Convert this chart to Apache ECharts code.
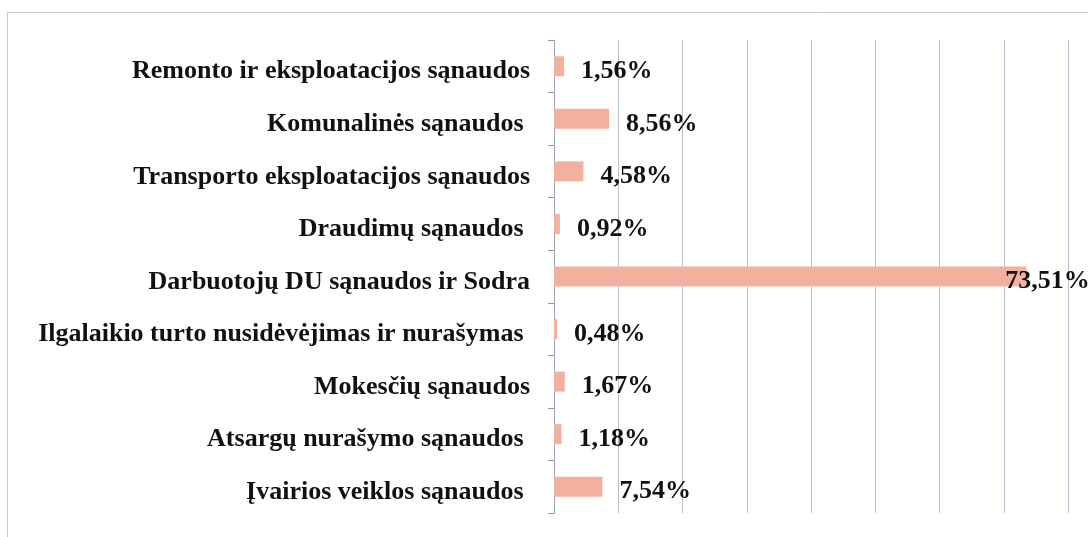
<!DOCTYPE html>
<html>
<head>
<meta charset="utf-8">
<script src="https://cdn.jsdelivr.net/npm/echarts@6/dist/echarts.min.js"></script>
<style>
  html, body { margin: 0; padding: 0; background: #fff; }
  #chart { width: 1088px; height: 537px; }
</style>
</head>
<body>
<div id="chart"></div>
<script>
// categories top to bottom (trailing spaces kept as in the source)
const categories = [
  'Remonto ir eksploatacijos sąnaudos',
  'Komunalinės sąnaudos ',
  'Transporto eksploatacijos sąnaudos',
  'Draudimų sąnaudos ',
  'Darbuotojų DU sąnaudos ir Sodra',
  'Ilgalaikio turto nusidėvėjimas ir nurašymas ',
  'Mokesčių sąnaudos',
  'Atsargų nurašymo sąnaudos ',
  'Įvairios veiklos sąnaudos '
]
const shares = [1.56, 8.56, 4.58, 0.92, 73.51, 0.48, 1.67, 1.18, 7.54]

const axisMin = 0
const axisMax = 80
const axisStep = 10

const font = '"Liberation Serif", "Times New Roman", serif'

const chart = echarts.init(document.getElementById('chart'))

const barData = shares.map(function (v) {
  // the biggest bar's label is pulled back over the bar, like in the source
  if (v > 60) {
    return { value: v, label: { offset: [-38, 5] } }
  }
  return v
})

chart.setOption({
  backgroundColor: '#fff',
  animation: false,
  graphic: [{
    type: 'rect',
    shape: { x: 7.5, y: 12.5, width: 1100, height: 600 },
    style: { fill: 'none', stroke: '#c3c9d6', lineWidth: 1 },
    silent: true
  }],
  grid: {
    left: 554,
    right: 20,
    top: 40,
    bottom: 24
  },
  xAxis: {
    type: 'value',
    min: axisMin,
    max: axisMax,
    interval: axisStep,
    axisLine: { show: false },
    axisTick: { show: false },
    axisLabel: { show: false },
    splitLine: {
      lineStyle: { color: '#b9c0cf', width: 1 }
    }
  },
  yAxis: {
    type: 'category',
    inverse: true,
    data: categories,
    axisLine: {
      lineStyle: { color: '#9aa3b8', width: 1 }
    },
    axisTick: {
      show: true,
      length: 6,
      lineStyle: { color: '#8e97ad', width: 1 }
    },
    axisLabel: {
      margin: 24,
      formatter: function (v) {
        return '{c|' + v + '}'
      },
      rich: {
        c: {
          color: '#111',
          fontFamily: font,
          fontWeight: 'bold',
          fontSize: 26,
          padding: [11, 0, 0, 0]
        }
      }
    }
  },
  series: [{
    type: 'bar',
    data: barData,
    barWidth: 20,
    itemStyle: { color: '#f2b19f' },
    label: {
      show: true,
      position: 'right',
      distance: 17,
      offset: [0, 5],
      color: '#111',
      fontFamily: font,
      fontWeight: 'bold',
      fontSize: 26,
      formatter: function (p) {
        return p.value.toFixed(2).replace('.', ',') + '%'
      }
    }
  }]
})
</script>
</body>
</html>
